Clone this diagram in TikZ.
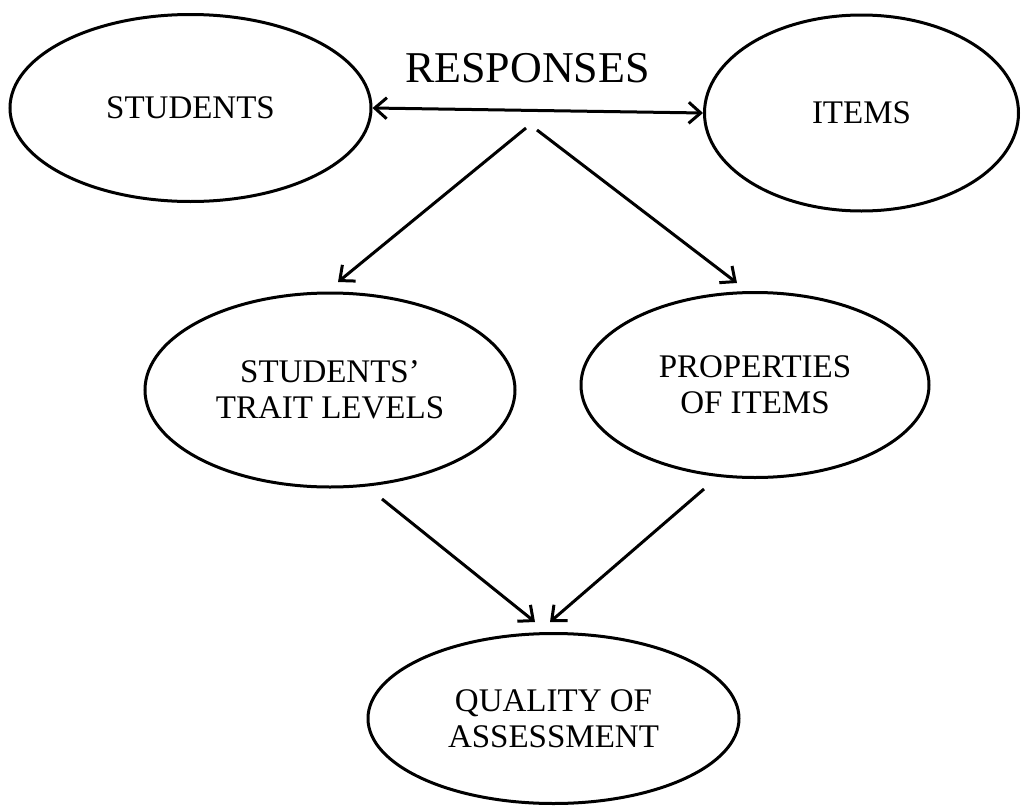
\documentclass[tikz,border=0pt]{standalone}
\usepackage{fontspec}
\setmainfont{Liberation Serif}
\usetikzlibrary{shapes.geometric,arrows.meta}

\begin{document}
\begin{tikzpicture}[x=1pt,y=-1pt,
    oval/.style={draw, line width=3pt, ellipse, inner sep=0pt, align=center,
                 font=\fontsize{33}{36}\selectfont},
    link/.style={line width=3pt, -{Straight Barb[length=12pt,width=21pt]}},
    bilink/.style={line width=3pt,
                   {Straight Barb[length=12pt,width=21pt]}-{Straight Barb[length=12pt,width=21pt]}}]

  % page frame
  \useasboundingbox (0,0) rectangle (1021,806);

  % top row
  \node[oval, minimum width=361pt, minimum height=187pt] (students) at (190.5,108) {STUDENTS};
  \node[oval, minimum width=314pt, minimum height=196pt] (items) at (861.5,113) {ITEMS};
  \node[font=\fontsize{44}{48}\selectfont, inner sep=0pt] (responses) at (527.5,68) {RESPONSES};

  % middle row
  \node[oval, minimum width=370pt, minimum height=194pt] (trait) at (330,390) {STUDENTS’\\TRAIT LEVELS};
  \node[oval, minimum width=348pt, minimum height=185pt] (props) at (755,385) {PROPERTIES\\OF ITEMS};

  % bottom
  \node[oval, minimum width=371pt, minimum height=170pt] (quality) at (553.5,718.5) {QUALITY OF\\ASSESSMENT};

  % arrow end points
  \coordinate (rL) at (526,128);
  \coordinate (rR) at (537,130);
  \coordinate (tL) at (338,282);
  \coordinate (tR) at (737,283);
  \coordinate (sL) at (382,499);
  \coordinate (sR) at (704,489);
  \coordinate (qL) at (535,622);
  \coordinate (qR) at (550,622);

  % connectors
  \draw[bilink] (students.east) -- (items.west);
  \draw[link] (rL) -- (tL);
  \draw[link] (rR) -- (tR);
  \draw[link] (sL) -- (qL);
  \draw[link] (sR) -- (qR);
\end{tikzpicture}
\end{document}
